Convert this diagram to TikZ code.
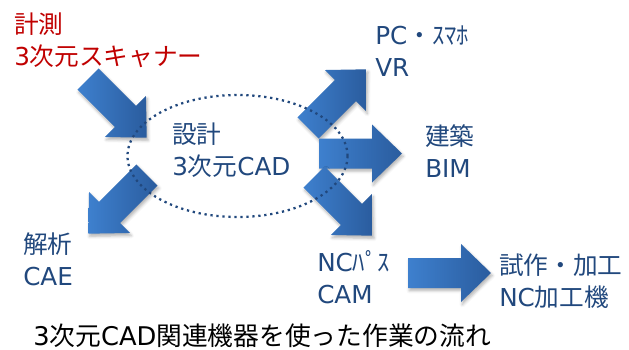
\documentclass[tikz,border=0pt]{standalone}
\usepackage{fontspec}
\setmainfont{Noto Sans CJK JP}
\newfontfamily\latinfont{DejaVu Sans}
\newcommand{\en}[1]{{\latinfont #1}}
\usepackage{tikz}
\usetikzlibrary{shadows.blur}
\definecolor{scanred}{RGB}{192,0,0}
\definecolor{labelblue}{RGB}{33,72,125}
\definecolor{arrowlight}{RGB}{62,128,206}
\definecolor{arrowdark}{RGB}{42,92,158}
\newcommand{\flowArrow}[2]{%
  \shade[flow arrow,shift={#1},rotate=#2]
    (0,-15) -- (53,-15) -- (53,-29) -- (83,0) -- (53,29) -- (53,15) -- (0,15) -- cycle;
}
\tikzset{
   label node/.style={anchor=base west,align=left,inner sep=0pt,text=labelblue,font=\fontsize{18.5}{24}\selectfont},
   scan node/.style={label node,text=scanred},
   caption node/.style={label node,text=black,font=\fontsize{19.3}{24}\selectfont},
   flow arrow/.style={left color=arrowlight,right color=arrowdark,
                      blur shadow={shadow xshift=1pt,shadow yshift=-2pt,shadow opacity=30}},
   design ring/.style={draw=labelblue,line width=1.7pt,dash pattern=on 1.7pt off 2.8pt}
}

\begin{document}
\begin{tikzpicture}[x=0.75pt,y=-0.75pt]
\useasboundingbox (0,0) rectangle (629,350);

% arrows
\flowArrow{(88,79)}{-45}
\flowArrow{(147,175)}{-135}
\flowArrow{(308,128)}{45}
\flowArrow{(319,153.5)}{0}
\flowArrow{(314,177)}{-45}
\flowArrow{(408,273)}{0}

% CAD
\draw[design ring] (237.5,156) ellipse [x radius=110,y radius=61];

% base anchor sits on the last line
\node[scan node] (scan) at (14,65) {計測\\\en{3}次元スキャナー};
\node[label node] (design) at (172,175) {設計\\\en{3}次元\en{CAD}};
\node[label node] (device) at (375,76) {\en{PC}・ｽﾏﾎ\\\en{VR}};
\node[label node] (bim) at (425,177) {建築\\\en{BIM}};
\node[label node] (cae) at (23,285) {解析\\\en{CAE}};
\node[label node] (cam) at (317,303) {\en{NC}ﾊﾟｽ\\\en{CAM}};
\node[label node] (proto) at (499,306) {試作・加工\\\en{NC}加工機};

\node[caption node] (caption) at (33,345) {\en{3}次元\en{CAD}関連機器を使った作業の流れ};
\end{tikzpicture}
\end{document}
